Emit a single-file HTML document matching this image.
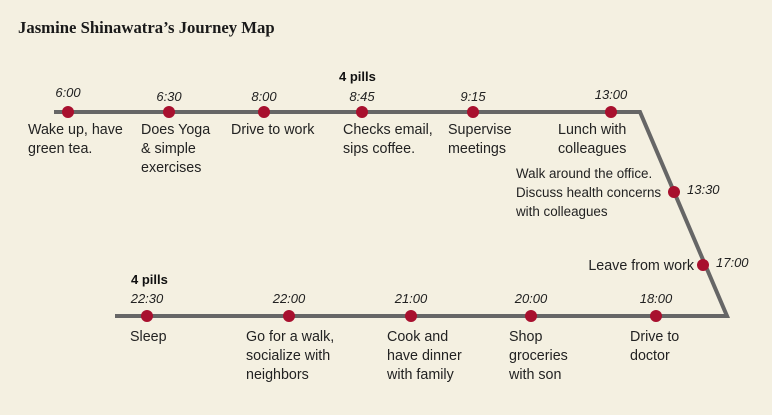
<!DOCTYPE html>
<html><head><meta charset="utf-8"><style>
body{margin:0;background:#f4f0e1;}
svg{display:block;font-family:"Liberation Sans",sans-serif;}
</style></head><body>
<svg id="c" width="772" height="415">
<rect width="772" height="415" fill="#f4f0e1"/>
<text x="18" y="33" font-family="Liberation Serif,serif" font-weight="bold" font-size="16.7" fill="#1a1a1a">Jasmine Shinawatra’s Journey Map</text>
<polyline points="54,112 640,112 727,316 115,316" fill="none" stroke="#666" stroke-width="4"/>
<text x="339" y="81" font-weight="bold" font-size="13" fill="#111">4 pills</text>
<text x="131" y="284" font-weight="bold" font-size="13" fill="#111">4 pills</text>
<g id="g"></g>
</svg>
<script>
const times=["6:00","6:30","8:00","8:45","9:15","13:00","13:30","17:00","18:00","20:00","21:00","22:00","22:30"];
const labels=[["Wake up, have","green tea."],["Does Yoga","& simple","exercises"],["Drive to work"],["Checks email,","sips coffee."],["Supervise","meetings"],["Lunch with","colleagues"],["Walk around the office.","Discuss health concerns","with colleagues"],["Leave from work"],["Drive to","doctor"],["Shop","groceries","with son"],["Cook and","have dinner","with family"],["Go for a walk,","socialize with","neighbors"],["Sleep"]];
// layout per stop: [dotX, dotY, labelX, timeY, side]
const layout=[[68,112,28,97,"t"],[169,112,141,101,"t"],[264,112,231,101,"t"],[362,112,343,101,"t"],[473,112,448,101,"t"],[611,112,558,99,"t"],[674,192,516,192,"r"],[703,265,694,265,"re"],[656,299,630,303,"b"],[531,299,509,303,"b"],[411,299,387,303,"b"],[289,299,246,303,"b"],[147,299,130,303,"b"]];
const g=document.getElementById('g');
const NS="http://www.w3.org/2000/svg";
times.forEach((t,i)=>{
 const [x,y,lx,ty,side]=layout[i];
 const dy=side==="b"?316:y;
 const c=document.createElementNS(NS,'circle');
 c.setAttribute('cx',x);c.setAttribute('cy',dy);c.setAttribute('r',6);c.setAttribute('fill','#a8102e');
 
 
 g.appendChild(c);
 const tt=document.createElementNS(NS,'text');
 tt.textContent=t;tt.setAttribute('font-size','13');tt.setAttribute('font-style','italic');tt.setAttribute('fill','#222');
 if(side[0]==="r"){tt.setAttribute('x',x+13);tt.setAttribute('y',dy+2);}
 else{tt.setAttribute('x',x);tt.setAttribute('y',ty);tt.setAttribute('text-anchor','middle');}
 
 
 g.appendChild(tt);
 const lines=labels[i];
 lines.forEach((ln,k)=>{
  const e=document.createElementNS(NS,'text');
  e.textContent=ln;e.setAttribute('font-size',side==="r"?'13.4':'14.3');e.setAttribute('fill','#222');
  e.setAttribute('x',lx);
  let by;
  if(side==="t")by=134+k*19;
  else if(side==="b")by=341+k*19;
  else{by=dy+5+(k-(lines.length-1)/2)*19;if(side==="re")e.setAttribute('text-anchor','end');}
  e.setAttribute('y',by);
  
  
  g.appendChild(e);
 });
});
</script>
</body></html>
